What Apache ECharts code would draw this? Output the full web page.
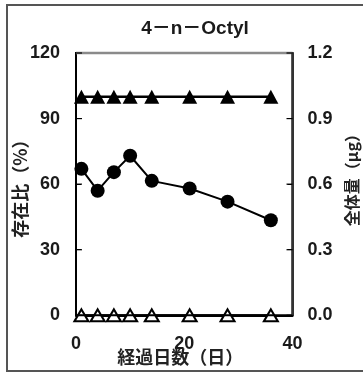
<!DOCTYPE html>
<html>
<head>
<meta charset="utf-8">
<script src="https://cdn.jsdelivr.net/npm/echarts@6/dist/echarts.min.js"></script>
<style>
  html, body { margin: 0; padding: 0; background: #fff; }
  #chart { width: 363px; height: 374px; }
</style>
</head>
<body>
<div id="chart"></div>
<script>
// Elapsed days of each sampling
const days = [1, 4, 7, 10, 14, 21, 28, 36];
// 存在比 (%) of 4-n-Octyl
const presenceRatio = [67, 57, 65.5, 73, 61.5, 58, 52, 43.5];
// Reference series at 100 %
const referenceRatio = [100, 100, 100, 100, 100, 100, 100, 100];
// 全体量 (μg)
const totalAmount = [0, 0, 0, 0, 0, 0, 0, 0];
// Tick values of both vertical axes
const leftTicks = [0, 30, 60, 90, 120];
const rightTicks = [0, 0.3, 0.6, 0.9, 1.2];

const titleText = '4－n－Octyl';
const xName = '経過日数（日）';
const leftName = '存在比（%）';
const rightName = '全体量（μg）';

const FONT = '"Liberation Sans", Arial, "Noto Sans CJK JP", sans-serif';
const CJK = '"Noto Sans CJK JP", "Liberation Sans", sans-serif';

const pair = (xs, ys) => xs.map((d, i) => [d, ys[i]]);

const chart = echarts.init(document.getElementById('chart'), null, { renderer: 'canvas' });

const numLabel = { fontFamily: FONT, fontSize: 18, fontWeight: 'bold', color: '#1a1a1a' };

chart.setOption({
  animation: false,
  title: {
    text: titleText,
    left: 190, top: 14, textAlign: 'center',
    textStyle: { fontFamily: FONT, fontSize: 19, fontWeight: 'bold', color: '#1a1a1a' }
  },
  grid: {
    left: 76, right: 70.5, top: 53, bottom: 58.7,
    containLabel: false, outerBoundsMode: 'none'
  },
  xAxis: {
    type: 'value', min: 0, max: 40, interval: 20,
    axisLine: { show: true, onZero: false, lineStyle: { color: '#000', width: 2 } },
    axisTick: { show: false },
    splitLine: { show: false },
    axisLabel: Object.assign({ margin: 20 }, numLabel)
  },
  yAxis: [{
    type: 'value', min: 0, max: 120, interval: 30, position: 'left',
    axisLine: { show: true, lineStyle: { color: '#000', width: 2 } },
    axisTick: { show: true, inside: true, length: 5, lineStyle: { color: '#000', width: 1 } },
    splitLine: { show: false },
    axisLabel: Object.assign({ margin: 16 }, numLabel)
  }, {
    type: 'value', min: 0, max: 1.2, interval: 0.3, position: 'right',
    axisLine: { show: true, lineStyle: { color: '#333', width: 1.5 } },
    axisTick: { show: true, inside: true, length: 5, lineStyle: { color: '#000', width: 1 } },
    splitLine: { show: false },
    axisLabel: Object.assign({ margin: 15, formatter: v => v.toFixed(1) }, numLabel)
  }],
  series: [{
    type: 'line', yAxisIndex: 1,
    data: pair(days, totalAmount),
    symbol: 'triangle', symbolSize: [14, 12],
    lineStyle: { color: '#000', width: 2 },
    itemStyle: { color: '#fff', borderColor: '#000', borderWidth: 2 }
  }, {
    type: 'line', yAxisIndex: 0,
    data: pair(days, referenceRatio),
    symbol: 'triangle', symbolSize: [15, 14],
    lineStyle: { color: '#000', width: 2.5 },
    itemStyle: { color: '#000' }
  }, {
    type: 'line', yAxisIndex: 0,
    data: pair(days, presenceRatio),
    symbol: 'circle', symbolSize: 14,
    lineStyle: { color: '#000', width: 2 },
    itemStyle: { color: '#000' }
  }]
});

// Plot frame, tick marks, axis titles and outer border, placed from the grid's own coordinates
const gridRect = chart.getModel().getComponent('grid').coordinateSystem.getRect();
const gx0 = gridRect.x, gx1 = gridRect.x + gridRect.width;
const gy0 = gridRect.y, gy1 = gridRect.y + gridRect.height;
const gyMid = (gy0 + gy1) / 2;
const nameStyle = (text, size) => ({
  text, fill: '#222', fontFamily: CJK, fontSize: size, fontWeight: 'bold',
  textAlign: 'center', textVerticalAlign: 'middle'
});
const graphics = [{
  type: 'rect', silent: true,
  shape: { x: 7, y: 5, width: 362, height: 366 },
  style: { fill: null, stroke: '#555', lineWidth: 2 }
}, {
  type: 'rect', silent: true, z: 10,
  shape: { x: gx0, y: gy0, width: gx1 - gx0, height: gy1 - gy0 },
  style: { fill: null, stroke: '#000', lineWidth: 2 }
}, {
  type: 'line', silent: true, z: 11,
  shape: { x1: gx0, y1: gy0, x2: gx1, y2: gy0 },
  style: { stroke: '#8a8a8a', lineWidth: 2.5 }
}, {
  type: 'line', silent: true, z: 11,
  shape: { x1: gx1, y1: gy0, x2: gx1, y2: gy1 },
  style: { stroke: '#333', lineWidth: 2 }
}, {
  // x-axis title
  type: 'text', silent: true, z: 12,
  x: (gx0 + gx1) / 2 - 4, y: gy1 + 42,
  style: nameStyle(xName, 18)
}, {
  // left axis title, read bottom to top
  type: 'text', silent: true, z: 12,
  x: 20, y: gyMid, rotation: Math.PI / 2,
  style: nameStyle(leftName, 18)
}, {
  // right axis title, read bottom to top
  type: 'text', silent: true, z: 12,
  x: 352, y: gyMid - 8, rotation: Math.PI / 2,
  style: nameStyle(rightName, 16)
}];
leftTicks.forEach(v => {
  const y = chart.convertToPixel({ yAxisIndex: 0 }, v);
  graphics.push({ type: 'line', z: 11, silent: true,
    shape: { x1: gx0, y1: y, x2: gx0 + 6, y2: y }, style: { stroke: '#000', lineWidth: 1.2 } });
});
rightTicks.forEach(v => {
  const y = chart.convertToPixel({ yAxisIndex: 1 }, v);
  graphics.push({ type: 'line', z: 11, silent: true,
    shape: { x1: gx1 - 6, y1: y, x2: gx1, y2: y }, style: { stroke: '#000', lineWidth: 1.2 } });
});
chart.setOption({ graphic: graphics });
</script>
</body>
</html>
